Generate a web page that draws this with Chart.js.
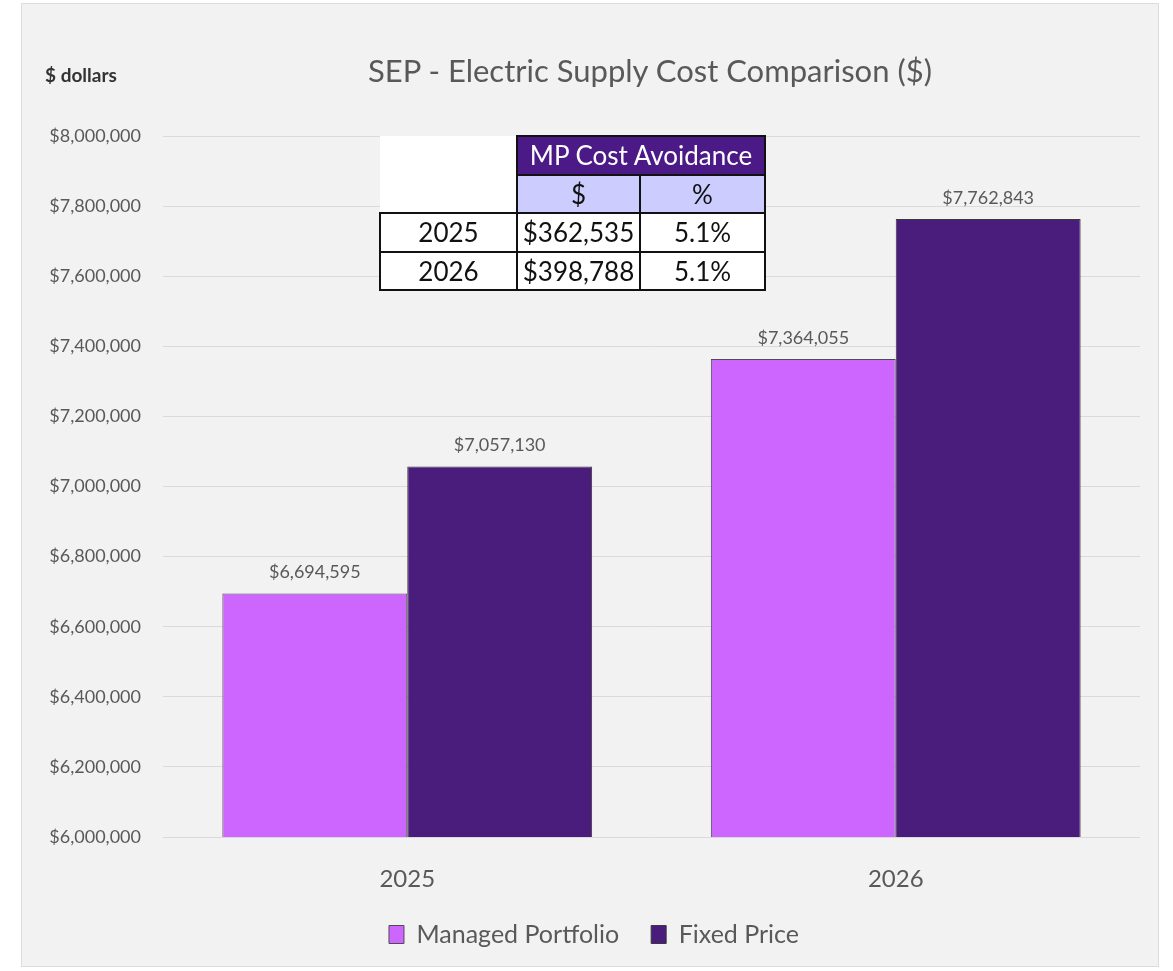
<!DOCTYPE html>
<html>
<head>
<meta charset="utf-8">
<script src="https://cdn.jsdelivr.net/npm/chart.js@4.4.1/dist/chart.umd.min.js"></script>
<style>
  body { margin: 0; background: #ffffff; font-family: Lato, "Open Sans", sans-serif; }
  #panel { position: absolute; left: 22px; top: 4px; width: 1136px; height: 962px; background: #f2f2f2; box-shadow: 0 0 0 1px #dcdcdc; }
  #chart { position: absolute; left: 0; top: 0; }
  #title { position: absolute; left: 0; width: 1300px; top: 51px; text-align: center; font-size: 31px; color: #595959; white-space: nowrap; }
  #unit { position: absolute; left: 45px; top: 63px; font-size: 19px; font-weight: bold; color: #333333; }
  #avoid { position: absolute; left: 379px; top: 135px; border-collapse: collapse; font-size: 26px; line-height: 1; color: #111111; }
  #avoid td { height: 36.6px; padding: 0; text-align: center; border: 2px solid #111111; }
  #avoid td.blank { border: none; background: #ffffff; }
  #avoid td.head { background: #4b1a87; color: #ffffff; }
  #avoid td.sub { background: #ccccff; }
  #avoid tr.row td { background: #ffffff; }
</style>
</head>
<body>
<div id="panel">
  <canvas id="chart" width="1136" height="962"></canvas>
</div>
<div id="title">SEP - Electric Supply Cost Comparison ($)</div>
<div id="unit">$ dollars</div>
<table id="avoid"></table>
<script>
// Chart data
const years = ['2025', '2026'];
const managedPortfolio = [6694595, 7364055];
const fixedPrice = [7057130, 7762843];

// Cost avoidance table
const tableYears = ['2025', '2026'];
const avoidanceDollars = ['$362,535', '$398,788'];
const avoidancePercent = ['5.1%', '5.1%'];

const money = (v) => '$' + v.toLocaleString('en-US');

// Build the inset table
const table = document.getElementById('avoid');
let html = '<tr><td class="blank" rowspan="2" style="width:136px"></td>' +
    '<td class="head" colspan="2">MP Cost Avoidance</td></tr>' +
    '<tr><td class="sub" style="width:121px">$</td><td class="sub" style="width:123px">%</td></tr>';
tableYears.forEach((y, i) => {
    html += '<tr class="row"><td>' + y + '</td><td>' + avoidanceDollars[i] + '</td><td>' + avoidancePercent[i] + '</td></tr>';
});
table.innerHTML = html;

// Value labels above bars
const barValueLabels = {
    id: 'barValueLabels',
    afterDatasetsDraw(chart) {
        const { ctx } = chart;
        ctx.save();
        ctx.font = '18px Lato';
        ctx.fillStyle = '#595959';
        ctx.textAlign = 'center';
        ctx.textBaseline = 'middle';
        chart.data.datasets.forEach((ds, i) => {
            chart.getDatasetMeta(i).data.forEach((bar, j) => {
                ctx.fillText(money(ds.data[j]), bar.x, bar.y - 21);
            });
        });
        ctx.restore();
    }
};

new Chart(document.getElementById('chart'), {
    type: 'bar',
    data: {
        labels: years,
        datasets: [{
            label: 'Managed Portfolio',
            data: managedPortfolio,
            backgroundColor: '#cc66ff',
            borderColor: '#4d4d4d',
            borderWidth: 1
        }, {
            label: 'Fixed Price',
            data: fixedPrice,
            backgroundColor: '#4a1c7c',
            borderColor: '#3a3a3a',
            borderWidth: 1
        }]
    },
    options: {
        responsive: false,
        animation: false,
        categoryPercentage: 0.757,
        barPercentage: 1.0,
        layout: {
            padding: { top: 132, right: 18, bottom: 9, left: 26 }
        },
        scales: {
            y: {
                min: 6000000,
                max: 8000000,
                afterFit: (scale) => { scale.width = 115; },
                ticks: {
                    stepSize: 200000,
                    padding: 22,
                    color: '#595959',
                    font: { family: 'Lato', size: 18 },
                    callback: (v) => money(v)
                },
                grid: { color: '#dadada', lineWidth: 1, drawTicks: false },
                border: { display: false }
            },
            x: {
                afterFit: (scale) => { scale.height = 53; },
                ticks: {
                    padding: 28,
                    color: '#595959',
                    font: { family: 'Lato', size: 24 }
                },
                grid: { display: false, drawTicks: false },
                border: { display: false }
            }
        },
        plugins: {
            legend: {
                position: 'bottom',
                labels: {
                    color: '#595959',
                    font: { family: 'Lato', size: 25 },
                    boxWidth: 15,
                    boxHeight: 18,
                    padding: 32
                }
            },
            tooltip: { enabled: false }
        }
    },
    plugins: [barValueLabels]
});
</script>
</body>
</html>
